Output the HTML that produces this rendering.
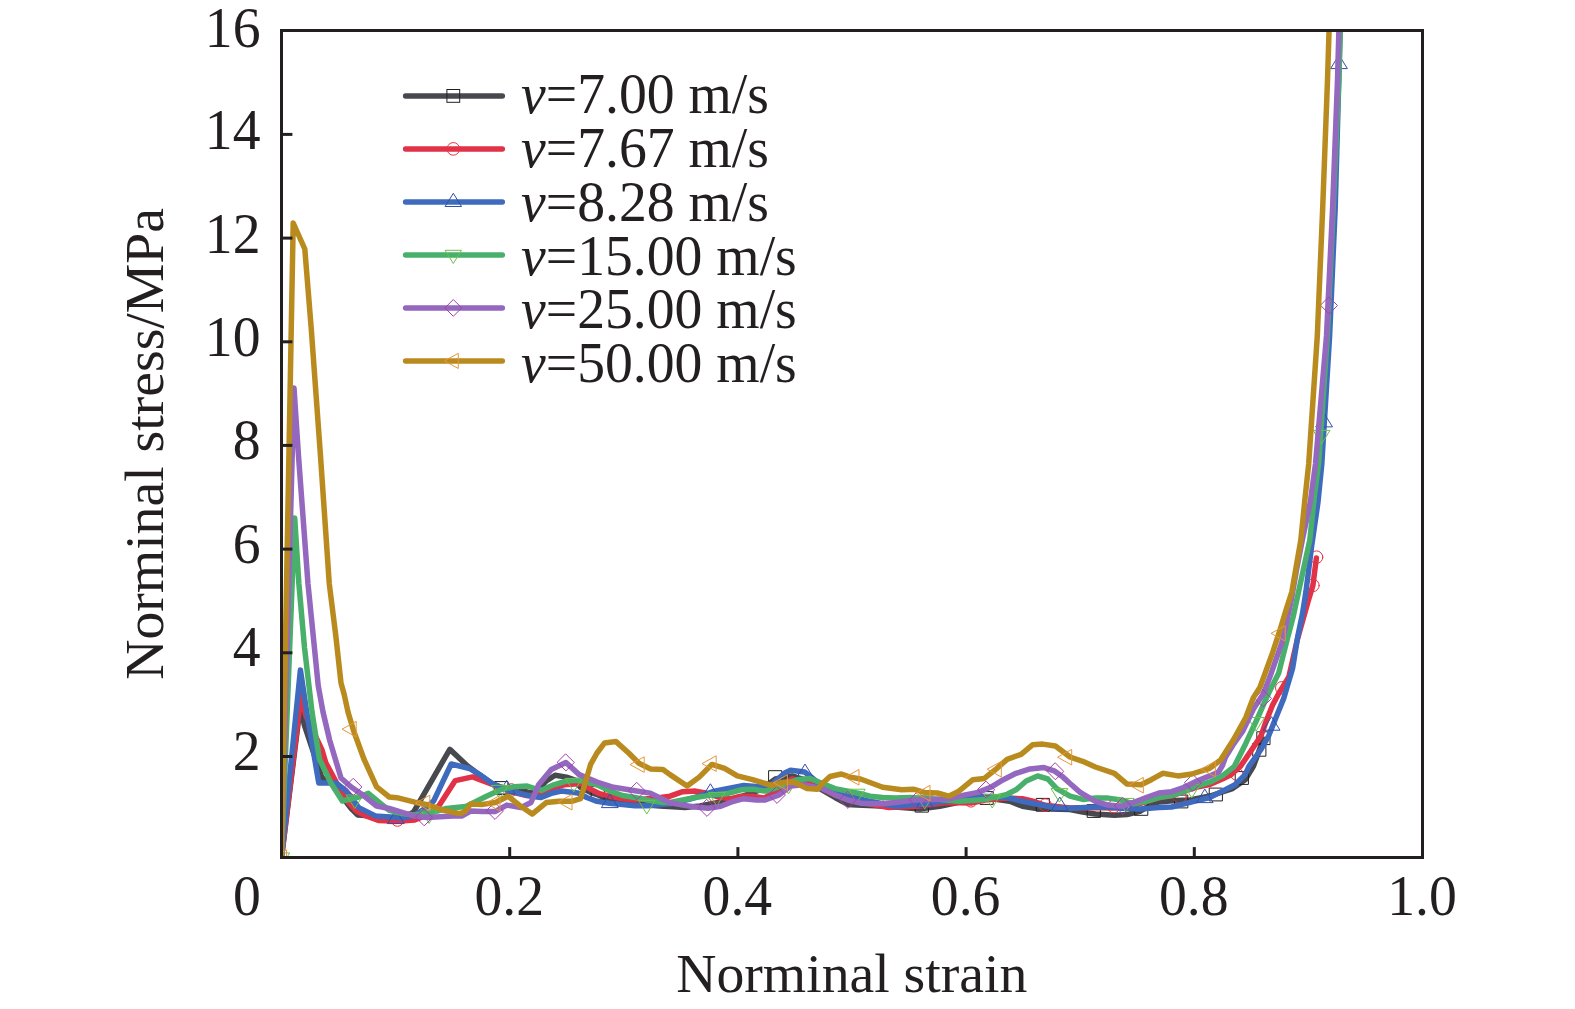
<!DOCTYPE html>
<html lang="en">
<head>
<meta charset="utf-8">
<title>Norminal stress - Norminal strain</title>
<style>
html,body{margin:0;padding:0;background:#fff;}
body{width:1575px;height:1009px;overflow:hidden;}
svg{display:block;}
text{font-family:"Liberation Serif",serif;font-size:55.7px;fill:#231f20;}
.it{font-style:italic;}
</style>
</head>
<body>
<svg width="1575" height="1009" viewBox="0 0 1575 1009">
<rect x="0" y="0" width="1575" height="1009" fill="#ffffff"/>
<defs><clipPath id="plot"><rect x="283" y="32" width="1138" height="824"/></clipPath></defs>

<g clip-path="url(#plot)" fill="none" stroke-linejoin="round" stroke-linecap="round">
<path d="M281.5,857.5 L301.0,700.0 L302.3,712.0 L304.2,724.7 L322.0,778.0 L330.0,781.0 L351.2,808.5 L357.5,814.9 L366.4,815.5 L380.0,817.0 L402.0,818.0 L413.4,812.3 L449.8,749.3 L467.5,766.0 L482.7,777.1 L492.4,783.8 L500.0,786.8 L510.0,789.5 L520.8,790.5 L531.0,793.0 L538.0,790.0 L546.2,781.0 L555.1,775.2 L566.5,777.1 L575.0,780.0 L580.5,787.3 L591.9,793.0 L598.0,795.0 L610.0,800.0 L635.0,804.0 L660.0,806.0 L685.2,807.6 L700.0,806.0 L718.3,802.5 L740.0,797.0 L760.0,790.0 L775.4,779.0 L792.0,776.0 L805.0,780.0 L819.8,788.6 L835.0,797.5 L847.8,804.4 L856.7,805.0 L880.0,806.0 L901.7,807.6 L920.8,808.9 L939.8,806.3 L960.0,802.0 L986.8,798.0 L1009.7,801.3 L1022.4,806.3 L1035.0,808.3 L1050.0,809.0 L1070.0,809.5 L1082.7,812.1 L1095.4,814.0 L1114.4,815.2 L1127.1,814.6 L1139.8,811.4 L1152.5,803.8 L1158.9,801.9 L1175.4,800.6 L1190.0,800.0 L1210.0,796.0 L1232.5,788.6 L1245.2,779.7 L1253.4,766.3 L1263.4,739.0" stroke="#48494f" stroke-width="5.5"/>
<rect x="495.1" y="781.6" width="12.8" height="12.8" fill="none" stroke="#231f20" stroke-width="1.0" stroke-width="1.3"/>
<rect x="591.6" y="786.6" width="12.8" height="12.8" fill="none" stroke="#231f20" stroke-width="1.0" stroke-width="1.3"/>
<rect x="769.0" y="770.7" width="12.8" height="12.8" fill="none" stroke="#231f20" stroke-width="1.0" stroke-width="1.3"/>
<rect x="915.6" y="799.3" width="12.8" height="12.8" fill="none" stroke="#231f20" stroke-width="1.0" stroke-width="1.3"/>
<rect x="980.4" y="791.6" width="12.8" height="12.8" fill="none" stroke="#231f20" stroke-width="1.0" stroke-width="1.3"/>
<rect x="1036.6" y="798.4" width="12.8" height="12.8" fill="none" stroke="#231f20" stroke-width="1.0" stroke-width="1.3"/>
<rect x="1087.6" y="804.6" width="12.8" height="12.8" fill="none" stroke="#231f20" stroke-width="1.0" stroke-width="1.3"/>
<rect x="1135.0" y="802.5" width="12.8" height="12.8" fill="none" stroke="#231f20" stroke-width="1.0" stroke-width="1.3"/>
<rect x="1175.0" y="795.1" width="12.8" height="12.8" fill="none" stroke="#231f20" stroke-width="1.0" stroke-width="1.3"/>
<rect x="1209.6" y="788.1" width="12.8" height="12.8" fill="none" stroke="#231f20" stroke-width="1.0" stroke-width="1.3"/>
<rect x="1235.6" y="771.6" width="12.8" height="12.8" fill="none" stroke="#231f20" stroke-width="1.0" stroke-width="1.3"/>
<rect x="1253.1" y="743.4" width="12.8" height="12.8" fill="none" stroke="#231f20" stroke-width="1.0" stroke-width="1.3"/>
<rect x="1257.2" y="731.8" width="12.8" height="12.8" fill="none" stroke="#231f20" stroke-width="1.0" stroke-width="1.3"/>
<path d="M281.5,857.5 L301.0,695.0 L306.0,716.0 L322.0,750.0 L325.8,762.8 L334.7,779.3 L344.8,798.3 L356.3,811.0 L366.0,816.0 L379.1,820.6 L396.9,821.2 L414.7,820.0 L427.4,814.9 L438.8,806.0 L455.3,780.6 L472.6,776.9 L482.5,780.7 L492.4,784.5 L500.0,787.3 L511.4,791.8 L526.7,795.5 L533.0,795.5 L538.6,793.5 L551.3,788.6 L564.0,784.8 L581.7,783.5 L589.4,788.6 L599.5,793.7 L609.7,796.2 L622.4,798.7 L635.0,800.0 L647.8,798.7 L660.5,797.5 L670.0,796.2 L682.7,791.7 L695.4,791.1 L705.6,793.0 L718.0,797.0 L731.0,798.7 L741.1,796.2 L752.5,796.2 L764.0,798.1 L775.0,792.0 L791.9,779.0 L809.7,782.9 L822.0,788.5 L835.0,795.0 L850.0,800.5 L870.0,804.0 L889.0,807.6 L920.0,806.0 L946.0,802.5 L971.0,803.0 L985.0,800.0 L1007.0,798.0 L1022.4,798.8 L1035.0,801.8 L1045.2,805.3 L1070.0,808.0 L1095.0,807.5 L1111.9,808.0 L1130.0,806.5 L1146.2,801.5 L1158.9,797.8 L1171.6,795.9 L1184.3,791.5 L1197.0,787.0 L1209.7,784.5 L1222.4,779.0 L1231.3,774.5 L1240.5,766.3 L1253.4,747.3 L1261.0,735.8 L1266.4,720.5 L1272.5,705.3 L1278.6,693.8 L1288.8,677.0 L1297.2,640.0 L1308.2,601.0 L1312.9,585.4 L1316.4,558.0" stroke="#e13248" stroke-width="5.5"/>
<circle cx="397.5" cy="820.0" r="6.3" fill="none" stroke="#e8323c" stroke-width="1.0"/>
<circle cx="511.4" cy="790.0" r="6.3" fill="none" stroke="#e8323c" stroke-width="1.0"/>
<circle cx="715.0" cy="796.0" r="6.3" fill="none" stroke="#e8323c" stroke-width="1.0"/>
<circle cx="889.0" cy="802.7" r="6.3" fill="none" stroke="#e8323c" stroke-width="1.0"/>
<circle cx="971.0" cy="800.8" r="6.3" fill="none" stroke="#e8323c" stroke-width="1.0"/>
<circle cx="1045.2" cy="805.1" r="6.3" fill="none" stroke="#e8323c" stroke-width="1.0"/>
<circle cx="1113.8" cy="806.5" r="6.3" fill="none" stroke="#e8323c" stroke-width="1.0"/>
<circle cx="1180.0" cy="797.0" r="6.3" fill="none" stroke="#e8323c" stroke-width="1.0"/>
<circle cx="1236.7" cy="774.0" r="6.3" fill="none" stroke="#e8323c" stroke-width="1.0"/>
<circle cx="1281.8" cy="687.9" r="6.3" fill="none" stroke="#e8323c" stroke-width="1.0"/>
<circle cx="1312.9" cy="585.4" r="6.3" fill="none" stroke="#e8323c" stroke-width="1.0"/>
<circle cx="1316.5" cy="557.2" r="6.3" fill="none" stroke="#e8323c" stroke-width="1.0"/>
<path d="M281.5,857.5 L300.4,670.0 L306.7,712.0 L318.8,783.1 L336.0,783.0 L346.0,790.7 L358.8,807.6 L375.3,815.9 L389.3,817.1 L402.0,818.0 L414.7,815.2 L424.8,808.5 L433.7,800.9 L451.2,764.0 L469.5,768.5 L481.0,775.4 L492.4,783.8 L500.0,786.8 L511.4,791.4 L526.7,795.2 L533.0,796.5 L541.1,797.5 L552.5,793.0 L561.4,791.1 L577.9,793.0 L586.8,797.5 L597.0,801.3 L609.7,803.2 L622.4,804.4 L635.0,805.7 L647.8,805.7 L660.5,804.4 L670.0,803.8 L690.0,799.0 L703.0,795.0 L714.4,791.1 L727.1,788.6 L743.7,785.4 L758.9,786.7 L770.0,786.0 L784.3,773.3 L790.6,770.2 L804.6,772.0 L809.7,775.9 L822.0,786.0 L835.0,791.0 L854.1,797.5 L870.0,801.3 L895.4,806.3 L908.1,805.1 L946.2,801.3 L971.6,797.5 L980.5,796.2 L1007.1,797.5 L1022.4,801.3 L1035.0,803.8 L1047.8,806.3 L1060.5,808.3 L1070.0,808.3 L1095.4,807.0 L1108.1,807.0 L1120.8,808.3 L1139.8,808.9 L1158.9,807.6 L1171.6,807.0 L1184.3,803.8 L1197.0,800.6 L1209.7,797.5 L1222.4,791.1 L1235.0,784.8 L1245.2,774.6 L1248.9,766.3 L1261.0,749.5 L1268.7,735.8 L1276.3,716.7 L1284.0,697.6 L1292.6,668.2 L1297.8,636.4 L1302.5,613.6 L1305.9,592.0 L1311.6,546.5 L1318.0,502.1 L1321.8,464.0 L1329.6,336.0 L1335.2,208.0 L1338.8,80.0 L1340.2,20.0" stroke="#3f6bbf" stroke-width="5.5"/>
<path d="M396.0,810.4 L404.2,823.6 L387.8,823.6 Z" fill="none" stroke="#2f4fa8" stroke-width="1.0"/>
<path d="M506.9,780.7 L515.1,793.9 L498.7,793.9 Z" fill="none" stroke="#2f4fa8" stroke-width="1.0"/>
<path d="M610.0,794.4 L618.2,807.6 L601.8,807.6 Z" fill="none" stroke="#2f4fa8" stroke-width="1.0"/>
<path d="M710.6,784.1 L718.8,797.3 L702.4,797.3 Z" fill="none" stroke="#2f4fa8" stroke-width="1.0"/>
<path d="M805.2,764.4 L813.4,777.6 L797.0,777.6 Z" fill="none" stroke="#2f4fa8" stroke-width="1.0"/>
<path d="M925.0,794.4 L933.2,807.6 L916.8,807.6 Z" fill="none" stroke="#2f4fa8" stroke-width="1.0"/>
<path d="M1060.0,797.4 L1068.2,810.6 L1051.8,810.6 Z" fill="none" stroke="#2f4fa8" stroke-width="1.0"/>
<path d="M1205.0,789.4 L1213.2,802.6 L1196.8,802.6 Z" fill="none" stroke="#2f4fa8" stroke-width="1.0"/>
<path d="M1271.8,717.0 L1280.0,730.2 L1263.6,730.2 Z" fill="none" stroke="#2f4fa8" stroke-width="1.0"/>
<path d="M1324.3,413.7 L1332.5,426.9 L1316.1,426.9 Z" fill="none" stroke="#2f4fa8" stroke-width="1.0"/>
<path d="M1339.2,55.4 L1347.4,68.6 L1331.0,68.6 Z" fill="none" stroke="#2f4fa8" stroke-width="1.0"/>
<path d="M281.5,857.5 L294.7,518.0 L298.9,584.0 L304.5,647.5 L312.0,712.0 L319.4,759.0 L330.9,783.0 L342.3,801.0 L358.8,797.0 L368.3,793.3 L380.4,803.4 L389.3,810.4 L402.0,813.6 L414.7,814.9 L432.5,812.3 L446.4,808.5 L465.5,806.6 L470.0,804.4 L486.5,796.2 L501.7,789.2 L514.4,786.7 L527.1,786.0 L541.1,790.5 L553.8,784.8 L566.5,781.0 L579.2,780.3 L597.0,784.8 L609.7,790.8 L622.4,795.5 L635.0,797.5 L650.3,800.6 L663.0,802.5 L670.0,802.5 L682.7,800.0 L695.4,797.5 L708.1,795.6 L727.1,793.7 L741.1,789.8 L752.5,789.2 L765.2,791.1 L777.9,787.3 L797.0,779.7 L809.7,778.4 L822.4,783.5 L835.0,788.6 L847.8,791.1 L860.5,793.7 L870.0,796.2 L882.7,797.5 L895.4,798.1 L910.6,797.5 L935.0,799.0 L958.9,801.3 L971.6,800.6 L984.3,799.4 L997.0,796.8 L1007.1,794.3 L1016.0,789.8 L1026.2,781.0 L1037.6,775.9 L1047.8,779.0 L1056.7,788.6 L1070.0,796.2 L1082.7,799.4 L1095.4,798.1 L1108.1,798.1 L1120.8,800.0 L1133.5,803.8 L1146.2,801.3 L1158.9,797.5 L1171.6,795.6 L1184.3,791.1 L1197.0,786.0 L1209.7,782.2 L1222.4,775.9 L1234.4,766.3 L1245.8,743.4 L1256.5,720.5 L1264.9,701.5 L1268.4,693.6 L1278.6,673.3 L1286.3,642.8 L1293.0,617.4 L1298.5,592.0 L1309.8,540.2 L1314.4,495.7 L1318.6,464.0 L1327.3,336.0 L1333.2,208.0 L1338.8,80.0 L1340.7,20.0" stroke="#48b06b" stroke-width="5.5"/>
<path d="M281.5,866.1 L289.7,852.9 L273.3,852.9 Z" fill="none" stroke="#6cc04a" stroke-width="1.0"/>
<path d="M355.0,808.2 L363.2,795.0 L346.8,795.0 Z" fill="none" stroke="#6cc04a" stroke-width="1.0"/>
<path d="M429.3,823.1 L437.5,809.9 L421.1,809.9 Z" fill="none" stroke="#6cc04a" stroke-width="1.0"/>
<path d="M500.0,798.6 L508.2,785.4 L491.8,785.4 Z" fill="none" stroke="#6cc04a" stroke-width="1.0"/>
<path d="M574.0,791.6 L582.2,778.4 L565.8,778.4 Z" fill="none" stroke="#6cc04a" stroke-width="1.0"/>
<path d="M647.0,813.6 L655.2,800.4 L638.8,800.4 Z" fill="none" stroke="#6cc04a" stroke-width="1.0"/>
<path d="M717.0,805.6 L725.2,792.4 L708.8,792.4 Z" fill="none" stroke="#6cc04a" stroke-width="1.0"/>
<path d="M788.7,793.6 L796.9,780.4 L780.5,780.4 Z" fill="none" stroke="#6cc04a" stroke-width="1.0"/>
<path d="M857.0,802.4 L865.2,789.2 L848.8,789.2 Z" fill="none" stroke="#6cc04a" stroke-width="1.0"/>
<path d="M925.0,808.6 L933.2,795.4 L916.8,795.4 Z" fill="none" stroke="#6cc04a" stroke-width="1.0"/>
<path d="M992.5,807.6 L1000.7,794.4 L984.3,794.4 Z" fill="none" stroke="#6cc04a" stroke-width="1.0"/>
<path d="M1059.6,801.8 L1067.8,788.6 L1051.4,788.6 Z" fill="none" stroke="#6cc04a" stroke-width="1.0"/>
<path d="M1126.0,811.6 L1134.2,798.4 L1117.8,798.4 Z" fill="none" stroke="#6cc04a" stroke-width="1.0"/>
<path d="M1192.0,797.6 L1200.2,784.4 L1183.8,784.4 Z" fill="none" stroke="#6cc04a" stroke-width="1.0"/>
<path d="M1256.3,730.7 L1264.5,717.5 L1248.1,717.5 Z" fill="none" stroke="#6cc04a" stroke-width="1.0"/>
<path d="M1321.8,443.6 L1330.0,430.4 L1313.6,430.4 Z" fill="none" stroke="#6cc04a" stroke-width="1.0"/>
<path d="M281.5,857.5 L294.0,388.0 L298.5,456.0 L308.0,584.0 L314.4,647.5 L318.2,685.6 L323.0,712.0 L329.6,740.0 L341.0,778.0 L351.2,787.0 L363.9,795.8 L376.6,806.0 L389.3,808.5 L402.0,812.3 L414.7,816.1 L427.4,817.4 L440.0,816.8 L452.8,816.1 L461.7,816.0 L470.6,811.0 L482.7,811.4 L495.4,811.4 L506.8,805.1 L520.8,807.6 L531.0,802.5 L538.6,784.8 L551.3,769.5 L565.9,762.5 L579.2,774.6 L597.0,782.0 L613.5,787.3 L635.0,790.8 L650.3,793.1 L670.0,802.8 L682.7,805.1 L695.4,807.0 L708.1,808.3 L720.8,806.3 L733.5,801.3 L743.7,798.7 L756.3,800.0 L765.2,800.0 L779.2,794.9 L790.6,786.0 L803.3,784.8 L822.4,788.6 L835.0,794.9 L847.8,800.0 L860.5,803.2 L870.0,803.8 L882.7,803.8 L895.4,802.5 L914.4,800.0 L933.5,799.4 L948.7,798.7 L965.2,794.9 L977.9,792.4 L990.6,787.3 L1003.3,779.7 L1016.0,773.3 L1030.0,768.9 L1044.0,767.6 L1054.1,770.8 L1063.0,777.1 L1070.0,783.5 L1080.2,792.4 L1095.4,801.3 L1108.1,805.1 L1120.8,806.3 L1133.5,802.5 L1146.2,797.5 L1158.9,793.0 L1171.6,791.7 L1184.3,787.3 L1197.0,781.0 L1209.7,775.9 L1218.6,772.0 L1222.4,765.7 L1225.5,757.0 L1233.0,745.0 L1242.7,731.2 L1253.4,709.0 L1263.4,693.8 L1270.1,676.3 L1281.9,642.7 L1286.0,625.0 L1291.3,600.0 L1296.5,570.0 L1302.3,540.0 L1306.5,520.0 L1310.3,502.0 L1315.5,464.0 L1326.5,336.0 L1332.6,208.0 L1337.5,80.0 L1339.2,20.0" stroke="#9468be" stroke-width="5.5"/>
<path d="M353.5,778.6 L361.9,787.0 L353.5,795.4 L345.1,787.0 Z" fill="none" stroke="#a23fae" stroke-width="1.0"/>
<path d="M424.2,809.0 L432.6,817.4 L424.2,825.8 L415.8,817.4 Z" fill="none" stroke="#a23fae" stroke-width="1.0"/>
<path d="M495.0,802.6 L503.4,811.0 L495.0,819.4 L486.6,811.0 Z" fill="none" stroke="#a23fae" stroke-width="1.0"/>
<path d="M565.9,754.1 L574.3,762.5 L565.9,770.9 L557.5,762.5 Z" fill="none" stroke="#a23fae" stroke-width="1.0"/>
<path d="M637.0,782.6 L645.4,791.0 L637.0,799.4 L628.6,791.0 Z" fill="none" stroke="#a23fae" stroke-width="1.0"/>
<path d="M707.0,799.6 L715.4,808.0 L707.0,816.4 L698.6,808.0 Z" fill="none" stroke="#a23fae" stroke-width="1.0"/>
<path d="M777.0,786.6 L785.4,795.0 L777.0,803.4 L768.6,795.0 Z" fill="none" stroke="#a23fae" stroke-width="1.0"/>
<path d="M848.0,791.6 L856.4,800.0 L848.0,808.4 L839.6,800.0 Z" fill="none" stroke="#a23fae" stroke-width="1.0"/>
<path d="M918.0,791.6 L926.4,800.0 L918.0,808.4 L909.6,800.0 Z" fill="none" stroke="#a23fae" stroke-width="1.0"/>
<path d="M986.2,781.4 L994.6,789.8 L986.2,798.2 L977.8,789.8 Z" fill="none" stroke="#a23fae" stroke-width="1.0"/>
<path d="M1055.4,763.0 L1063.8,771.4 L1055.4,779.8 L1047.0,771.4 Z" fill="none" stroke="#a23fae" stroke-width="1.0"/>
<path d="M1123.0,797.6 L1131.4,806.0 L1123.0,814.4 L1114.6,806.0 Z" fill="none" stroke="#a23fae" stroke-width="1.0"/>
<path d="M1193.0,774.6 L1201.4,783.0 L1193.0,791.4 L1184.6,783.0 Z" fill="none" stroke="#a23fae" stroke-width="1.0"/>
<path d="M1263.2,690.0 L1271.6,698.4 L1263.2,706.8 L1254.8,698.4 Z" fill="none" stroke="#a23fae" stroke-width="1.0"/>
<path d="M1329.1,297.1 L1337.5,305.5 L1329.1,313.9 L1320.7,305.5 Z" fill="none" stroke="#a23fae" stroke-width="1.0"/>
<path d="M281.5,857.5 L293.2,223.0 L304.8,249.0 L311.2,328.0 L320.5,456.0 L329.3,584.0 L335.7,634.8 L341.0,683.0 L344.2,694.5 L348.0,712.0 L353.7,731.0 L363.9,759.0 L376.6,786.9 L389.3,797.0 L396.9,797.7 L414.7,802.2 L427.4,804.7 L443.9,810.4 L452.8,812.3 L460.4,813.6 L465.5,811.0 L470.6,804.0 L482.7,804.4 L495.4,802.5 L508.1,796.2 L520.8,806.3 L532.2,814.0 L546.2,802.5 L558.9,801.3 L571.6,801.3 L580.5,798.7 L584.3,786.0 L590.6,764.4 L597.0,753.0 L604.6,742.9 L616.0,741.6 L628.7,753.0 L638.9,763.2 L650.3,768.9 L663.0,769.5 L670.0,774.6 L687.1,786.0 L699.2,777.1 L711.9,764.4 L724.6,768.3 L737.3,775.9 L752.5,779.7 L765.2,783.5 L771.6,785.4 L784.3,782.2 L794.4,782.2 L807.1,788.6 L817.3,789.2 L822.4,783.5 L830.0,776.5 L841.4,774.0 L850.3,777.1 L860.5,779.0 L870.0,782.5 L882.7,787.3 L901.7,789.8 L913.2,789.2 L924.6,792.4 L937.3,793.0 L948.7,796.2 L958.9,791.1 L972.9,779.7 L984.3,778.4 L997.0,768.3 L1007.1,759.4 L1021.1,754.3 L1032.5,744.8 L1042.7,744.1 L1055.4,746.0 L1070.0,757.0 L1082.7,761.3 L1095.4,767.0 L1114.4,773.3 L1127.1,784.1 L1141.1,784.8 L1151.3,779.7 L1162.7,773.3 L1177.9,775.9 L1191.9,774.0 L1209.7,768.3 L1220.6,760.0 L1233.6,739.6 L1245.8,717.5 L1253.4,697.6 L1260.0,687.2 L1272.5,653.0 L1280.0,630.1 L1286.5,608.5 L1291.8,592.0 L1300.8,540.2 L1305.3,495.7 L1308.7,464.0 L1317.3,336.0 L1322.7,208.0 L1327.5,80.0 L1329.4,20.0" stroke="#b98b1f" stroke-width="5.5"/>
<path d="M272.7,857.5 L286.5,849.9 L286.5,865.1 Z" fill="none" stroke="#e8953a" stroke-width="1.0"/>
<path d="M342.4,729.0 L356.2,721.4 L356.2,736.6 Z" fill="none" stroke="#e8953a" stroke-width="1.0"/>
<path d="M416.0,802.8 L429.8,795.2 L429.8,810.4 Z" fill="none" stroke="#e8953a" stroke-width="1.0"/>
<path d="M486.2,803.0 L500.0,795.4 L500.0,810.6 Z" fill="none" stroke="#e8953a" stroke-width="1.0"/>
<path d="M558.2,802.0 L572.0,794.4 L572.0,809.6 Z" fill="none" stroke="#e8953a" stroke-width="1.0"/>
<path d="M630.4,764.4 L644.2,756.8 L644.2,772.0 Z" fill="none" stroke="#e8953a" stroke-width="1.0"/>
<path d="M702.4,763.4 L716.2,755.8 L716.2,771.0 Z" fill="none" stroke="#e8953a" stroke-width="1.0"/>
<path d="M773.6,782.4 L787.4,774.8 L787.4,790.0 Z" fill="none" stroke="#e8953a" stroke-width="1.0"/>
<path d="M845.2,777.1 L859.0,769.5 L859.0,784.7 Z" fill="none" stroke="#e8953a" stroke-width="1.0"/>
<path d="M916.2,793.0 L930.0,785.4 L930.0,800.6 Z" fill="none" stroke="#e8953a" stroke-width="1.0"/>
<path d="M987.5,769.0 L1001.3,761.4 L1001.3,776.6 Z" fill="none" stroke="#e8953a" stroke-width="1.0"/>
<path d="M1057.9,757.0 L1071.7,749.4 L1071.7,764.6 Z" fill="none" stroke="#e8953a" stroke-width="1.0"/>
<path d="M1129.5,785.0 L1143.3,777.4 L1143.3,792.6 Z" fill="none" stroke="#e8953a" stroke-width="1.0"/>
<path d="M1201.5,768.8 L1215.3,761.2 L1215.3,776.4 Z" fill="none" stroke="#e8953a" stroke-width="1.0"/>
<path d="M1271.4,633.2 L1285.2,625.6 L1285.2,640.8 Z" fill="none" stroke="#e8953a" stroke-width="1.0"/>
</g>
<rect x="281.5" y="30.5" width="1141" height="827" fill="none" stroke="#231f20" stroke-width="3"/>
<line x1="509.7" y1="856" x2="509.7" y2="847.1" stroke="#231f20" stroke-width="3"/>
<line x1="737.9" y1="856" x2="737.9" y2="847.1" stroke="#231f20" stroke-width="3"/>
<line x1="966.1" y1="856" x2="966.1" y2="847.1" stroke="#231f20" stroke-width="3"/>
<line x1="1194.3" y1="856" x2="1194.3" y2="847.1" stroke="#231f20" stroke-width="3"/>
<line x1="283" y1="756.5" x2="292.4" y2="756.5" stroke="#231f20" stroke-width="3"/>
<line x1="283" y1="652.8" x2="292.4" y2="652.8" stroke="#231f20" stroke-width="3"/>
<line x1="283" y1="549.1" x2="292.4" y2="549.1" stroke="#231f20" stroke-width="3"/>
<line x1="283" y1="445.4" x2="292.4" y2="445.4" stroke="#231f20" stroke-width="3"/>
<line x1="283" y1="341.8" x2="292.4" y2="341.8" stroke="#231f20" stroke-width="3"/>
<line x1="283" y1="238.1" x2="292.4" y2="238.1" stroke="#231f20" stroke-width="3"/>
<line x1="283" y1="134.4" x2="292.4" y2="134.4" stroke="#231f20" stroke-width="3"/>
<text transform="translate(260.5,769.6) scale(1,1.012)" text-anchor="end">2</text>
<text transform="translate(260.5,666.2) scale(1,1.012)" text-anchor="end">4</text>
<text transform="translate(260.5,562.8) scale(1,1.012)" text-anchor="end">6</text>
<text transform="translate(260.5,459.4) scale(1,1.012)" text-anchor="end">8</text>
<text transform="translate(260.5,355.9) scale(1,1.012)" text-anchor="end">10</text>
<text transform="translate(260.5,252.5) scale(1,1.012)" text-anchor="end">12</text>
<text transform="translate(260.5,149.1) scale(1,1.012)" text-anchor="end">14</text>
<text transform="translate(260.5,46.6) scale(1,1.012)" text-anchor="end">16</text>
<text transform="translate(247,914.7) scale(1,1.012)" text-anchor="middle">0</text>
<text transform="translate(509.2,914.7) scale(1,1.012)" text-anchor="middle">0.2</text>
<text transform="translate(737.4,914.7) scale(1,1.012)" text-anchor="middle">0.4</text>
<text transform="translate(965.6,914.7) scale(1,1.012)" text-anchor="middle">0.6</text>
<text transform="translate(1193.8,914.7) scale(1,1.012)" text-anchor="middle">0.8</text>
<text transform="translate(1422.0,914.7) scale(1,1.012)" text-anchor="middle">1.0</text>
<text x="851.8" y="991.8" text-anchor="middle">Norminal strain</text>
<text transform="translate(163,443.9) rotate(-90)" text-anchor="middle">Norminal stress/MPa</text>
<line x1="405.6" y1="95.9" x2="502.3" y2="95.9" stroke="#48494f" stroke-width="5.5" stroke-linecap="round"/>
<rect x="446.9" y="89.5" width="12.8" height="12.8" fill="none" stroke="#231f20" stroke-width="1.0" stroke-width="1.3"/>
<text transform="translate(521,113.3) scale(1,1.012)"><tspan class="it">v</tspan>=7.00 m/s</text>
<line x1="405.6" y1="148.9" x2="502.3" y2="148.9" stroke="#e13248" stroke-width="5.5" stroke-linecap="round"/>
<circle cx="453.3" cy="148.9" r="6.3" fill="none" stroke="#e8323c" stroke-width="1.0"/>
<text transform="translate(521,167.1) scale(1,1.012)"><tspan class="it">v</tspan>=7.67 m/s</text>
<line x1="405.6" y1="201.9" x2="502.3" y2="201.9" stroke="#3f6bbf" stroke-width="5.5" stroke-linecap="round"/>
<path d="M453.3,193.3 L461.5,206.5 L445.1,206.5 Z" fill="none" stroke="#2f4fa8" stroke-width="1.0"/>
<text transform="translate(521,220.8) scale(1,1.012)"><tspan class="it">v</tspan>=8.28 m/s</text>
<line x1="405.6" y1="254.9" x2="502.3" y2="254.9" stroke="#48b06b" stroke-width="5.5" stroke-linecap="round"/>
<path d="M453.3,263.5 L461.5,250.3 L445.1,250.3 Z" fill="none" stroke="#6cc04a" stroke-width="1.0"/>
<text transform="translate(521,274.6) scale(1,1.012)"><tspan class="it">v</tspan>=15.00 m/s</text>
<line x1="405.6" y1="307.9" x2="502.3" y2="307.9" stroke="#9468be" stroke-width="5.5" stroke-linecap="round"/>
<path d="M453.3,299.5 L461.7,307.9 L453.3,316.3 L444.9,307.9 Z" fill="none" stroke="#a23fae" stroke-width="1.0"/>
<text transform="translate(521,328.3) scale(1,1.012)"><tspan class="it">v</tspan>=25.00 m/s</text>
<line x1="405.6" y1="360.9" x2="502.3" y2="360.9" stroke="#b98b1f" stroke-width="5.5" stroke-linecap="round"/>
<path d="M444.5,360.9 L458.3,353.3 L458.3,368.5 Z" fill="none" stroke="#e8953a" stroke-width="1.0"/>
<text transform="translate(521,382.1) scale(1,1.012)"><tspan class="it">v</tspan>=50.00 m/s</text>
</svg>
</body>
</html>
